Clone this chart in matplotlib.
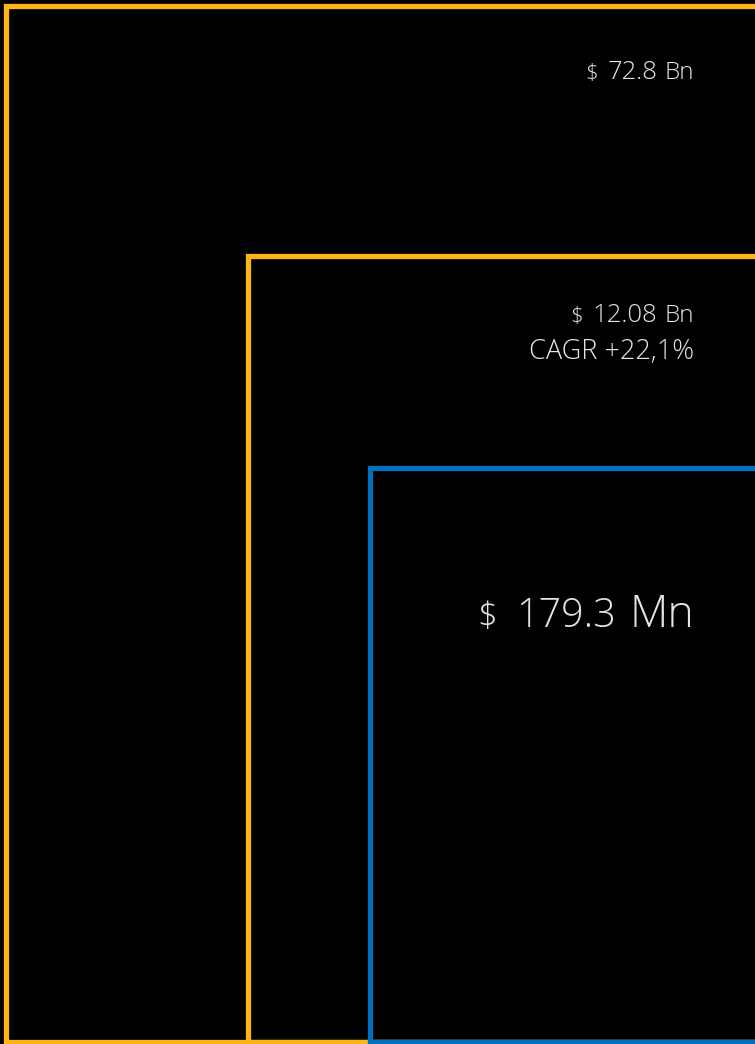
import matplotlib
matplotlib.use("Agg")
import matplotlib.pyplot as plt

# Data
segments = ["TAM", "SAM", "SOM"]
amounts = ["72.8", "12.08", "179.3"]
units = ["Bn", "Bn", "Mn"]
cagr_labels = ["", "CAGR +22,1%", ""]

# Layout (pixels)
W, H = 755, 1044
box_left = [5.5, 247.5, 369.5]
box_top = [5.5, 255.5, 467.5]
box_colors = ["#FDB515", "#FDB515", "#0070C0"]
text_x = 694
amount_y = [79, 322, 627]
cagr_y = [None, 359, None]
dollar_size = [16, 16, 25]
amount_size = [18.5, 18.5, 28.5]
unit_size = [17.5, 17.5, 32]
gap_unit = [7, 7, 13]
gap_dollar = [10, 10, 19]

fig = plt.figure(figsize=(W / 100, H / 100), dpi=100, facecolor="black")
ax = fig.add_axes([0, 0, 1, 1])
ax.set_facecolor("black")
ax.set_xlim(0, W)
ax.set_ylim(H, 0)
ax.axis("off")

font = ["Open Sans", "DejaVu Sans"]
txt_color = "#E4E4E4"
weight = "light"
bottom = 1041.5
right = W + 20
for i, seg in enumerate(segments):
    x0, y0 = box_left[i], box_top[i]
    xm = (x0 + W) / 2
    ax.plot([xm, right, right, x0, x0, xm],
            [y0, y0, bottom, bottom, y0, y0],
            color=box_colors[i], linewidth=3.8,
            solid_joinstyle="miter", solid_capstyle="butt")

renderer = fig.canvas.get_renderer()
inv = ax.transData.inverted()
for i in range(len(segments)):
    t_unit = ax.text(text_x, amount_y[i], units[i], color=txt_color,
                     fontsize=unit_size[i], family=font, fontweight=weight,
                     ha="right", va="baseline")
    bb = t_unit.get_window_extent(renderer)
    xu = inv.transform((bb.x0, 0))[0]
    t_amt = ax.text(xu - gap_unit[i], amount_y[i], amounts[i], color=txt_color,
                    fontsize=amount_size[i], family=font, fontweight=weight,
                    ha="right", va="baseline")
    bb2 = t_amt.get_window_extent(renderer)
    xa = inv.transform((bb2.x0, 0))[0]
    ax.text(xa - gap_dollar[i], amount_y[i], "$", color=txt_color,
            fontsize=dollar_size[i], family=font, fontweight=weight,
            ha="right", va="baseline")
    if cagr_labels[i]:
        ax.text(text_x, cagr_y[i], cagr_labels[i], color=txt_color,
                fontsize=19.5, family=font, fontweight=weight,
                ha="right", va="baseline")

fig.savefig("out.png", dpi=100, facecolor="black")
